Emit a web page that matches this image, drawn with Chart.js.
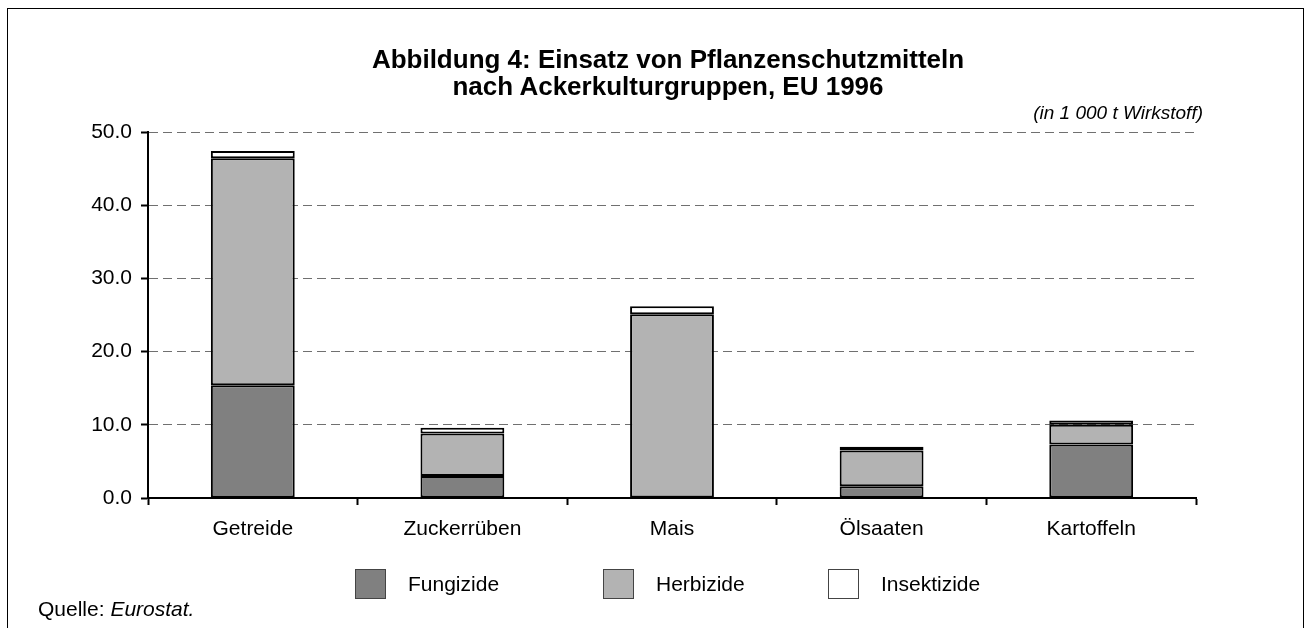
<!DOCTYPE html>
<html>
<head>
<meta charset="utf-8">
<script src="https://cdn.jsdelivr.net/npm/chart.js@4/dist/chart.umd.min.js"></script>
<style>
    body { margin: 0; background: #fff; font-family: "Liberation Sans", Arial, sans-serif; color: #000; }
    #wrap { position: relative; width: 1312px; height: 628px; overflow: hidden; }
    #frame { position: absolute; left: 7px; top: 8px; width: 1297px; height: 660px; border: 1px solid #000; box-sizing: border-box; }
    #chart { position: absolute; left: 0; top: 0; }
    .title { position: absolute; left: 0; top: 46px; width: 1336px; text-align: center; font-weight: bold; font-size: 26px; line-height: 27px; }
    .unit { position: absolute; right: 109px; top: 102px; font-style: italic; font-size: 19px; line-height: 22px; }
    .leg-box { position: absolute; top: 569px; width: 31px; height: 30px; border: 1px solid #444; box-sizing: border-box; }
    .leg-text { position: absolute; top: 572px; font-size: 21px; line-height: 24px; }
    .source { position: absolute; left: 38px; top: 597px; font-size: 21px; line-height: 24px; }
</style>
</head>
<body>
<div id="wrap">
    <div id="frame"></div>
    <canvas id="chart" width="1312" height="628"></canvas>
    <div class="title">Abbildung 4: Einsatz von Pflanzenschutzmitteln<br>nach Ackerkulturgruppen, EU 1996</div>
    <div class="unit">(in 1 000 t Wirkstoff)</div>
    <div id="legend"></div>
    <div class="source">Quelle: <i>Eurostat.</i></div>
</div>
<script>
const categories = ['Getreide', 'Zuckerrüben', 'Mais', 'Ölsaaten', 'Kartoffeln'];
const fungizide = [15.4, 3.0, 0.0, 1.6, 7.3];
const herbizide = [31.0, 5.8, 25.1, 4.9, 2.7];
const insektizide = [1.0, 0.8, 1.1, 0.5, 0.6];
const yTicks = [0, 10, 20, 30, 40, 50];

const seriesNames = ['Fungizide', 'Herbizide', 'Insektizide'];
const seriesColors = ['#808080', '#b3b3b3', '#ffffff'];

// legend drawn as html so the item spacing matches the original
const legendPos = [{ box: 355, text: 408 }, { box: 603, text: 656 }, { box: 828, text: 881 }];
const legend = document.getElementById('legend');
seriesNames.forEach((name, i) => {
    const box = document.createElement('div');
    box.className = 'leg-box';
    box.style.left = legendPos[i].box + 'px';
    box.style.background = seriesColors[i];
    legend.appendChild(box);
    const txt = document.createElement('div');
    txt.className = 'leg-text';
    txt.style.left = legendPos[i].text + 'px';
    txt.textContent = name;
    legend.appendChild(txt);
});

const font = { family: '"Liberation Sans", Arial, sans-serif', size: 21 };

function makeDataset(label, data, color) {
    return {
        label: label,
        data: data,
        backgroundColor: color,
        borderColor: '#000',
        borderWidth: 2,
        borderSkipped: false,
        barPercentage: 0.4,
        categoryPercentage: 1.0
    };
}

const ctx = document.getElementById('chart').getContext('2d');
new Chart(ctx, {
    type: 'bar',
    data: {
        labels: categories,
        datasets: [
            makeDataset(seriesNames[0], fungizide, seriesColors[0]),
            makeDataset(seriesNames[1], herbizide, seriesColors[1]),
            makeDataset(seriesNames[2], insektizide, seriesColors[2])
        ]
    },
    options: {
        responsive: false,
        animation: false,
        layout: { padding: { left: 0, right: 116, top: 132, bottom: 90 } },
        plugins: {
            legend: { display: false },
            tooltip: { enabled: false }
        },
        scales: {
            x: {
                stacked: true,
                afterFit: (scale) => { scale.height = 40; },
                grid: { drawOnChartArea: false, offset: true, tickLength: 7, tickColor: '#000', tickWidth: 2 },
                border: { color: '#000', width: 2 },
                ticks: { color: '#000', font: font, padding: 12 }
            },
            y: {
                stacked: true,
                min: 0,
                max: 50,
                afterFit: (scale) => { scale.width = 148; },
                afterBuildTicks: (scale) => { scale.ticks = yTicks.map(v => ({ value: v })); },
                grid: { color: '#707070', lineWidth: 1, tickLength: 7, tickColor: '#000', tickWidth: 2 },
                border: { color: '#000', width: 2, dash: [9, 5] },
                ticks: { color: '#000', font: font, padding: 9, callback: (v) => Number(v).toFixed(1) }
            }
        }
    }
});
</script>
</body>
</html>
